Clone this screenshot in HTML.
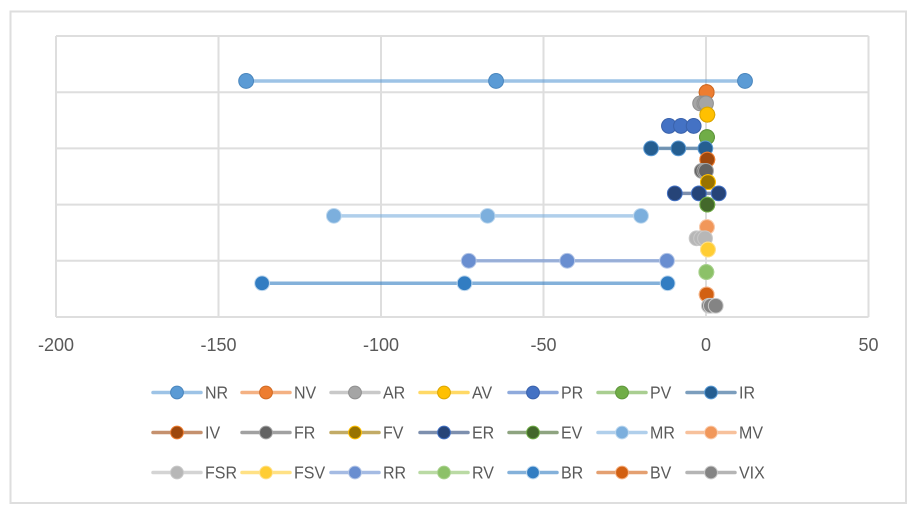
<!DOCTYPE html>
<html lang="en">
<head>
<meta charset="utf-8">
<title>Range dot plot</title>
<style>
html,body{margin:0;padding:0;background:#fff;width:919px;height:506px;overflow:hidden}
svg{display:block;font-family:"Liberation Sans",sans-serif}
text{fill:#595959;font-size:18px}
</style>
</head>
<body>
<svg id="chart" width="919" height="506" viewBox="0 0 919 506" xmlns="http://www.w3.org/2000/svg">
<rect x="10.5" y="11.5" width="895.5" height="491.5" fill="#fff" stroke="#dedede" stroke-width="2"/>
<g id="grid"></g>
<g id="ticks"></g>
<g id="series"></g>
<g id="legend"></g>
</svg>
<script>
var seriesNames = ["NR","NV","AR","AV","PR","PV","IR","IV","FR","FV","ER","EV","MR","MV","FSR","FSV","RR","RV","BR","BV","VIX"];
var lowValues  = [-141.5,0.2,-1.8,0.4,-11.4,0.3,-16.9,0.4,-1.3,0.6,-9.6,0.4,-114.5,0.3,-2.9,0.6,-73,0.1,-136.6,0.2,0.9];
var midValues  = [-64.6,0.2,-0.5,0.4,-7.7,0.3,-8.5,0.4,-0.5,0.6,-2.2,0.4,-67.2,0.3,-1.5,0.6,-42.7,0.1,-74.3,0.2,1.5];
var highValues = [12,0.2,0,0.4,-3.8,0.3,-0.2,0.4,0,0.6,3.9,0.4,-20,0.3,-0.3,0.6,-12,0.1,-11.8,0.2,3];
var rowValues  = [4.2,4.0,3.8,3.6,3.4,3.2,3.0,2.8,2.6,2.4,2.2,2.0,1.8,1.6,1.4,1.2,1.0,0.8,0.6,0.4,0.2];
var xTickValues = [-200,-150,-100,-50,0,50];
var yGridValues = [0,1,2,3,4,5];
var seriesColors = ["#5b9bd5","#ed7d31","#a5a5a5","#ffc000","#4472c4","#70ad47","#255e91","#9e480e","#636363","#997300","#264478","#43682b","#7cafdd","#f1975a","#b7b7b7","#ffcd33","#698ed0","#8cc168","#327dc2","#d26012","#848484"];
var borderColors = ["#4a86bd","#d06a24","#8f8f8f","#dba600","#3a62ab","#5f963c","#5b9bd5","#ed7d31","#a5a5a5","#ffc000","#4472c4","#70ad47","#bcd7ee","#f8cbad","#c9c9c9","#ffe08a","#b4c6e7","#a9d18e","#bdd7ee","#f4b183","#c9c9c9"];

var NS = "http://www.w3.org/2000/svg";
var plotLeft = 56, plotRight = 868.5, plotTop = 36, plotBottom = 317;
function xScale(v){ return plotLeft + (v + 200) * (plotRight - plotLeft) / 250; }
function yScale(v){ return plotBottom - v * (plotBottom - plotTop) / 5; }
function make(tag, parent, attrs){
  var el = document.createElementNS(NS, tag);
  for (var k in attrs) el.setAttribute(k, attrs[k]);
  parent.appendChild(el);
  return el;
}
var grid = document.getElementById("grid");
var ticks = document.getElementById("ticks");
var seriesGroup = document.getElementById("series");
var legend = document.getElementById("legend");

yGridValues.forEach(function(v){
  var l = make("line", grid, {x1:plotLeft, x2:plotRight, y1:yScale(v), y2:yScale(v), stroke:"#dedede", "stroke-width":2});
  
  
});
xTickValues.forEach(function(v){
  var l = make("line", grid, {x1:xScale(v), x2:xScale(v), y1:plotTop, y2:plotBottom, stroke:"#dedede", "stroke-width":2});
  
  
  var t = make("text", ticks, {x:xScale(v), y:351, "text-anchor":"middle"});
  t.textContent = String(v);
  
  
});
seriesNames.forEach(function(name, i){
  var g = make("g", seriesGroup, {});
  
  
  var y = yScale(rowValues[i]);
  var line = make("line", g, {x1:xScale(lowValues[i]), x2:xScale(highValues[i]), y1:y, y2:y, stroke:seriesColors[i], "stroke-width":3.5, "stroke-opacity":0.6});
  
  
  [lowValues[i], midValues[i], highValues[i]].forEach(function(v){
    var c = make("circle", g, {cx:xScale(v), cy:y, r:7.4, fill:seriesColors[i], stroke:borderColors[i], "stroke-width":1});
    
    
  });
});
seriesNames.forEach(function(name, i){
  var col = i % 7, row = Math.floor(i / 7);
  var lx = 153 + col * 89, ly = 392.5 + row * 40;
  var g = make("g", legend, {});
  
  
  var l = make("line", g, {x1:lx, x2:lx + 48, y1:ly, y2:ly, stroke:seriesColors[i], "stroke-width":3.5, "stroke-opacity":0.6, "stroke-linecap":"round"});
  
  
  var c = make("circle", g, {cx:lx + 24, cy:ly, r:6.4, fill:seriesColors[i], stroke:borderColors[i], "stroke-width":1});
  
  
  var t = make("text", g, {transform:"translate(" + (lx + 52) + " " + (ly + 6) + ") scale(0.89 1)"});
  t.textContent = name;
  
  
});
</script>
</body>
</html>
